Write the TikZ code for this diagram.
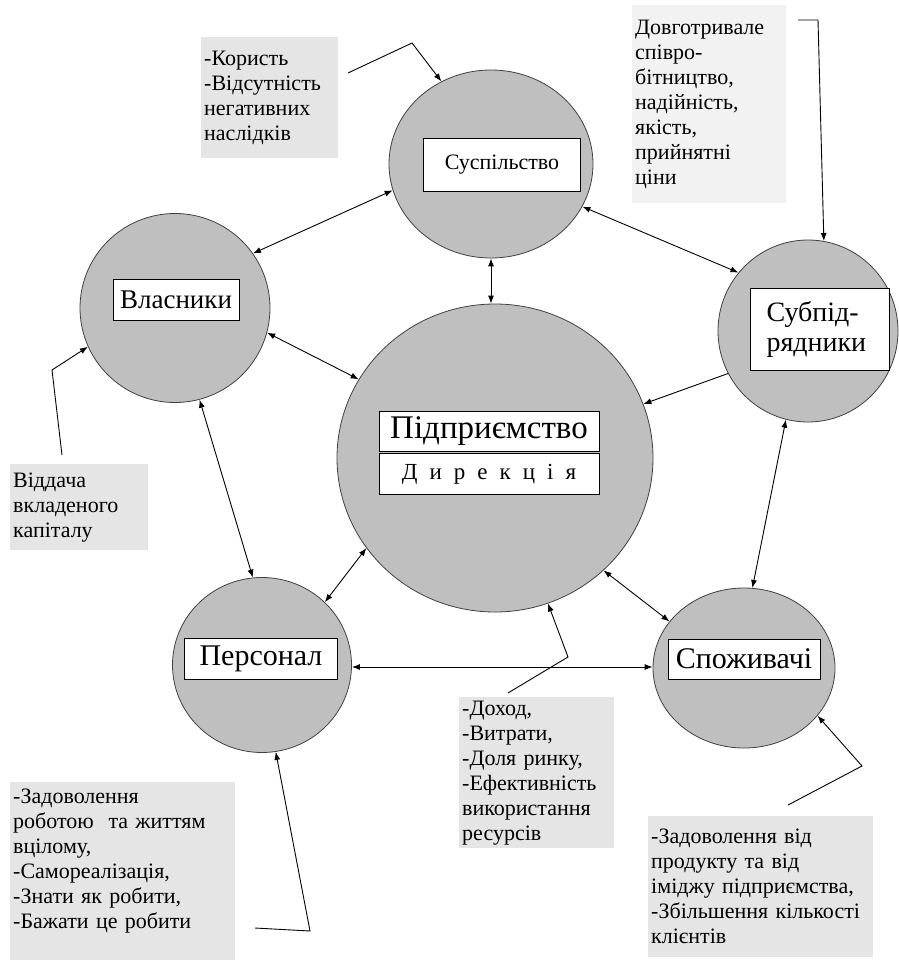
\documentclass[tikz,border=0pt]{standalone}
\usepackage{fontspec}
\setmainfont{Liberation Serif}
\usetikzlibrary{shapes.geometric,arrows.meta}

\tikzset{
  party/.style={ellipse, draw=black!75, line width=0.8pt, fill=black!25, inner sep=0pt},
  tag/.style={draw=black, line width=0.8pt, fill=white, inner sep=2pt},
  note/.style={fill=gray!20, anchor=north west, align=left, inner sep=3pt, font=\fontsize{22}{25}\selectfont},
  link/.style={{Latex[length=8pt,width=6pt]}-{Latex[length=8pt,width=6pt]}, line width=0.9pt},
  pointer/.style={-{Latex[length=8pt,width=6pt]}, line width=0.9pt},
}

\begin{document}
\begin{tikzpicture}[x=1pt,y=-1pt]
\useasboundingbox (0,0) rectangle (898,960);

% the six circles
\node[party, minimum width=204, minimum height=188] (soc) at (491,164) {};
\node[party, minimum width=190, minimum height=189] (vlas) at (175,308) {};
\node[party, minimum width=180, minimum height=182] (sub) at (808,331) {};
\node[party, minimum width=316, minimum height=308] (ent) at (495,458) {};
\node[party, minimum width=179, minimum height=175] (pers) at (262,665) {};
\node[party, minimum width=182, minimum height=160] (spoz) at (744,668) {};

% their labels
\node[tag, minimum width=157, minimum height=53, font=\fontsize{22}{25}\selectfont] (socl) at (502,165) {Суспільство};
\node[tag, minimum width=126, minimum height=41, font=\fontsize{27}{30}\selectfont] (vlasl) at (176,300) {Власники};
\node[tag, minimum width=139, minimum height=82, align=left, text width=107, font=\fontsize{28}{30}\selectfont] (subl) at (820,329) {Субпід-\\рядники};
\node[tag, minimum width=220, minimum height=40, font=\fontsize{33}{36}\selectfont] (entl) at (489,431) {Підприємство};
\node[tag, minimum width=220, minimum height=41, font=\fontsize{23}{26}\selectfont] (dirl) at (489,474) {\spaceskip=12pt Д и р е к ц і я};
\node[tag, minimum width=153, minimum height=41, font=\fontsize{30}{33}\selectfont] (persl) at (261,659) {Персонал};
\node[tag, minimum width=152, minimum height=40, font=\fontsize{30}{33}\selectfont] (spozl) at (744,659) {Споживачі};

% grey notes
\node[note, minimum width=137, minimum height=121, text width=131] (b1) at (201,37) {-Користь\\-Відсутність\\негативних\\наслідків};
\node[note, fill=gray!10, minimum width=154, minimum height=198, text width=148] (b2) at (632,5) {Довготривале\\співро-\\бітництво,\\надійність,\\якість,\\прийнятні\\ціни};
\node[note, minimum width=138, minimum height=86, text width=132] (b3) at (10,464) {Віддача\\вкладеного\\капіталу};
\node[note, minimum width=155, minimum height=151, text width=149] (b4) at (459,697) {-Доход,\\-Витрати,\\-Доля ринку,\\-Ефективність\\використання\\ресурсів};
\node[note, minimum width=225, minimum height=178, text width=219] (b5) at (10,782) {-Задоволення\\роботою~ та життям\\вцілому,\\-Самореалізація,\\-Знати як робити,\\-Бажати це робити\\\mbox{}};
\node[note, minimum width=225, minimum height=141, text width=219] (b6) at (648,816) {-Задоволення від\\продукту та від\\іміджу підприємства,\\-Збільшення кількості\\клієнтів};

% links between circles
\draw[link] (soc.195) -- (vlas.35);
\draw[link] (soc.south) -- (soc.south |- ent.north);
\draw[link] (soc.335) -- (sub.140);
\draw[link] (vlas.345) -- (ent.150);
\draw[link] (vlas.285) -- (pers.96);
\draw[pointer] (sub.208) -- (ent.20);
\draw[link] (sub.256) -- (spoz.84);
\draw[link] (ent.314) -- (spoz.148);
\draw[link] (pers.45) -- (ent.215);
\draw[link] ([yshift=-2pt]pers.east) -- ([yshift=-2pt]pers.east -| spoz.west);

% pointers from the notes
\coordinate (p1) at (348,73);  \coordinate (k1) at (412,43);
\coordinate (p2) at (798,20);  \coordinate (k2) at (818,20);
\coordinate (p3) at (62,455);  \coordinate (k3) at (52,370);
\coordinate (p4) at (508,693); \coordinate (k4) at (568,657);
\coordinate (p5) at (255,928); \coordinate (k5) at (310,931);
\coordinate (p6) at (788,805); \coordinate (k6) at (862,766);
\draw[pointer] (p1) -- (k1) -- (soc.121);
\draw[pointer] (p2) -- (k2) -- (sub.80);
\draw[pointer] (p3) -- (k3) -- (vlas.204);
\draw[pointer] (p4) -- (k4) -- (ent.290);
\draw[pointer] (p5) -- (k5) -- (pers.279);
\draw[pointer] (p6) -- (k6) -- (spoz.327);
\end{tikzpicture}
\end{document}
